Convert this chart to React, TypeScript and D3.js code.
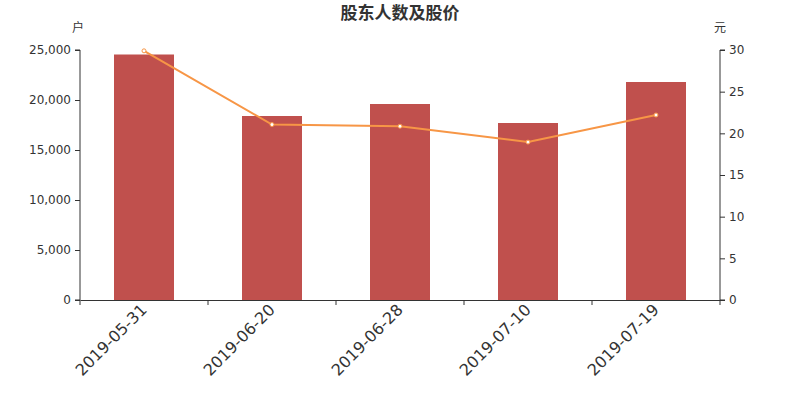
import React, { useRef, useEffect } from 'react';
import * as d3 from 'd3';

const dates = ['2019-05-31', '2019-06-20', '2019-06-28', '2019-07-10', '2019-07-19'];
const holders = [24550, 18400, 19600, 17700, 21800];
const prices = [29.9, 21.05, 20.85, 18.95, 22.2];
const leftTicks = [0, 5000, 10000, 15000, 20000, 25000];
const rightTicks = [0, 5, 10, 15, 20, 25, 30];

const App: React.FC = () => {
  const svgRef = useRef<SVGSVGElement | null>(null);

  useEffect(() => {
    if (!svgRef.current) return;
    const w = 800;
    const h = 400;
    const m = { top: 50, right: 80, bottom: 100, left: 80 };
    const svg = d3.select(svgRef.current);
    svg.selectAll('*').remove();
    svg.attr('width', w).attr('height', h);

    const font = '"DejaVu Sans", sans-serif';

    const x = d3.scaleBand<string>().domain(dates).range([m.left, w - m.right]);
    const yL = d3.scaleLinear().domain([0, 25000]).range([h - m.bottom, m.top]);
    const yR = d3.scaleLinear().domain([0, 30]).range([h - m.bottom, m.top]);

    const barW = 60;
    svg
      .append('g')
      .selectAll('rect')
      .data(holders)
      .join('rect')
      .attr('x', (_, i) => x(dates[i])! + x.bandwidth() / 2 - barW / 2)
      .attr('width', barW)
      .attr('y', (d) => yL(d))
      .attr('height', (d) => yL(0) - yL(d))
      .attr('fill', '#c0504d');

    const axisColor = '#333';

    const left = svg
      .append('g')
      .attr('transform', `translate(${m.left},0)`)
      .call(d3.axisLeft(yL).tickValues(leftTicks).tickSize(5).tickPadding(4).tickFormat(d3.format(',')));
    const right = svg
      .append('g')
      .attr('transform', `translate(${w - m.right},0)`)
      .call(d3.axisRight(yR).tickValues(rightTicks).tickSize(5).tickPadding(4));
    const bottom = svg
      .append('g')
      .attr('transform', `translate(0,${h - m.bottom})`)
      .call(d3.axisBottom(x).tickSize(0).tickFormat(() => ''));

    [left, right, bottom].forEach((g) => {
      g.select('.domain').attr('stroke', axisColor);
      g.selectAll('.tick line').attr('stroke', axisColor);
      g.selectAll('.tick text').attr('fill', axisColor).style('font-family', font).style('font-size', '12px');
    });
    right.select('.domain').attr('d', `M5,${m.top}H0V${h - m.bottom}H5`);
    left.select('.domain').attr('d', `M-5,${m.top}H0V${h - m.bottom}H-5`);

    // category boundary ticks
    const bounds = dates.map((d) => x(d)!).concat([w - m.right]);
    svg
      .append('g')
      .selectAll('line')
      .data(bounds)
      .join('line')
      .attr('x1', (d) => d)
      .attr('x2', (d) => d)
      .attr('y1', h - m.bottom)
      .attr('y2', h - m.bottom + 5)
      .attr('stroke', axisColor);

    svg
      .append('g')
      .selectAll('text')
      .data(dates)
      .join('text')
      .attr('transform', (d) => `translate(${x(d)! + x.bandwidth() / 2 - 4},${h - m.bottom + 3}) rotate(-45)`)
      .attr('text-anchor', 'end')
      .attr('dy', '0.7em')
      .attr('fill', axisColor)
      .style('font-family', font)
      .style('font-size', '16px')
      .text((d) => d);

    const line = d3
      .line<number>()
      .x((_, i) => x(dates[i])! + x.bandwidth() / 2)
      .y((d) => yR(d));

    svg
      .append('path')
      .datum(prices)
      .attr('d', line)
      .attr('fill', 'none')
      .attr('stroke', '#f79646')
      .attr('stroke-width', 2);

    svg
      .append('g')
      .selectAll('circle')
      .data(prices)
      .join('circle')
      .attr('cx', (_, i) => x(dates[i])! + x.bandwidth() / 2)
      .attr('cy', (d) => yR(d))
      .attr('r', 2)
      .attr('fill', '#fff')
      .attr('stroke', '#f79646')
      .attr('stroke-width', 1);

    svg
      .append('text')
      .attr('x', w / 2)
      .attr('y', 19)
      .attr('text-anchor', 'middle')
      .attr('fill', axisColor)
      .style('font-family', '"Noto Sans CJK SC", sans-serif')
      .style('font-size', '17px')
      .style('font-weight', 'bold')
      .text('股东人数及股价');

    svg
      .append('text')
      .attr('x', m.left - 2)
      .attr('y', 32)
      .attr('text-anchor', 'middle')
      .attr('fill', axisColor)
      .style('font-family', '"Noto Sans CJK SC", sans-serif')
      .style('font-size', '12px')
      .text('户');

    svg
      .append('text')
      .attr('x', w - m.right)
      .attr('y', 32)
      .attr('text-anchor', 'middle')
      .attr('fill', axisColor)
      .style('font-family', '"Noto Sans CJK SC", sans-serif')
      .style('font-size', '12px')
      .text('元');
  }, []);

  return (
    <div style={{ position: 'absolute', left: 0, top: 0 }}>
      <svg ref={svgRef}></svg>
    </div>
  );
};

export default App;
